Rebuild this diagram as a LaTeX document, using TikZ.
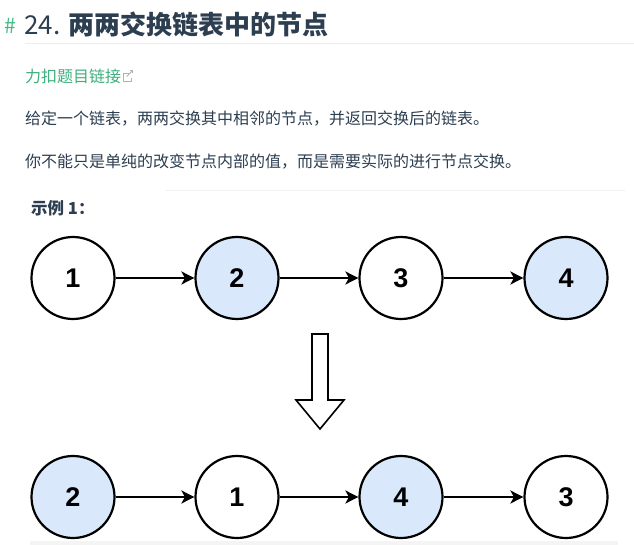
\documentclass[tikz,border=0pt]{standalone}
\usepackage{fontspec}
\setmainfont{Noto Sans CJK SC}
\newfontfamily\digitfont{Liberation Sans}
\usetikzlibrary{shapes.geometric,arrows.meta}
\definecolor{txt}{HTML}{2C3E50}
\definecolor{grn}{HTML}{42B983}
\definecolor{lnk}{HTML}{3EAF7C}
\definecolor{nodeblue}{HTML}{DAE8FC}
\definecolor{rule}{HTML}{EAECEF}
\definecolor{band}{HTML}{F4F4F4}
\tikzset{
  lnode/.style={ellipse, draw=black, line width=2.2pt, minimum width=83pt, minimum height=82pt, inner sep=0pt, font=\digitfont\bfseries\fontsize{27}{27}\selectfont},
  bnode/.style={lnode, fill=nodeblue},
  wnode/.style={lnode, fill=white},
  link/.style={line width=2pt, -{Stealth[length=13pt,width=13pt,inset=3.5pt]}},
  para/.style={anchor=west, inner sep=0pt, text=txt, font=\fontsize{16}{16}\selectfont},
}
\begin{document}
\begin{tikzpicture}[x=1pt,y=-1pt]
\useasboundingbox (0,0) rectangle (634,545);
% heading
\node[anchor=west, inner sep=0pt, text=grn, font=\fontsize{21}{21}\selectfont] (hash) at (4,26) {\#};
\node[anchor=west, inner sep=0pt, text=txt, font=\fontsize{26}{26}\selectfont] (title) at (24,24) {24. {\bfseries 两两交换链表中的节点}};
\draw[rule, line width=1pt] (25,44) -- (634,44);
\node[anchor=west, inner sep=0pt, text=lnk, font=\fontsize{16}{16}\selectfont] (lk) at (25,76) {力扣题目链接};
\node[anchor=west, inner sep=0pt] (ext) at (123,76) {\tikz[x=1pt,y=1pt]{\draw[gray!60, line width=0.9pt] (5,8) -- (0,8) -- (0,0) -- (8,0) -- (8,3); \draw[gray!60, line width=0.9pt] (3,5) -- (9,11); \draw[gray!60, line width=0.9pt] (6,11) -- (9,11) -- (9,8);}};
\node[para] (p1) at (25,119) {给定一个链表，两两交换其中相邻的节点，并返回交换后的链表。};
\node[para] (p2) at (25,162) {你不能只是单纯的改变节点内部的值，而是需要实际的进行节点交换。};
\draw[rule!70, line width=1pt] (165,191) -- (625,191);
\node[anchor=west, inner sep=0pt, text=txt, font=\bfseries\fontsize{16.5}{16.5}\selectfont] (ex) at (31,208) {示例 1：};
% top row
\node[wnode] (a1) at (73,278) {1};
\node[bnode] (a2) at (237,278) {2};
\node[wnode] (a3) at (401,278) {3};
\node[bnode] (a4) at (566,278) {4};
\draw[link] (a1) -- (a2);
\draw[link] (a2) -- (a3);
\draw[link] (a3) -- (a4);
% down arrow
\draw[line width=1.6pt, fill=white, line join=miter] (312,334) -- (328,334) -- (328,400) -- (344,400) -- (320,429) -- (296,400) -- (312,400) -- cycle;
% bottom row
\fill[band] (30,541) rectangle (618,545);
\node[bnode] (b1) at (73,497) {2};
\node[wnode] (b2) at (237,497) {1};
\node[bnode] (b3) at (401,497) {4};
\node[wnode] (b4) at (566,497) {3};
\draw[link] (b1) -- (b2);
\draw[link] (b2) -- (b3);
\draw[link] (b3) -- (b4);
\end{tikzpicture}
\end{document}
